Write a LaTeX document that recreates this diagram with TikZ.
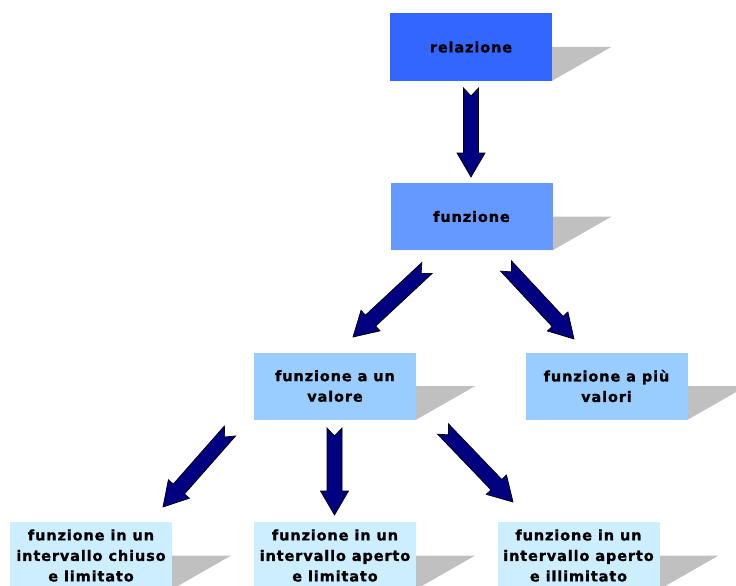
\documentclass[tikz,border=0pt]{standalone}
\usepackage{fontspec}
\setmainfont{DejaVu Sans}[LetterSpace=6, BoldFeatures={FakeBold=1.2}]
\usetikzlibrary{calc,backgrounds}

\definecolor{boxA}{HTML}{3366FF}
\definecolor{boxB}{HTML}{6699FF}
\definecolor{boxC}{HTML}{99CCFF}
\definecolor{boxD}{HTML}{CCEEFF}
\definecolor{shadowgray}{HTML}{C0C0C0}
\definecolor{navyfill}{HTML}{000080}

\tikzset{
  concept/.style={minimum width=162pt, minimum height=67pt, inner sep=0pt,
    align=center, font=\fontsize{14.5pt}{20.5pt}\selectfont\bfseries},
  boxshadow/.style={fill=shadowgray, draw=none},
  blockarrow/.style={fill=navyfill, draw=black, line width=0.7pt, line join=miter}
}

% skewed drop shadow behind a box, drawn on the background layer
\newcommand\boxshadow[1]{%
  \begin{scope}[on background layer]
    \fill[boxshadow] (#1.south west) -- (#1.south east)
      -- ([xshift=59pt]#1.east) -- ([xshift=59pt]#1.west) -- cycle;
  \end{scope}}

% thick block arrow with notched tail: #1 = tail, #2 = tip
\newcommand\blockarr[2]{%
  \draw[blockarrow]
    ($(#1)!7.5pt!90:(#2)$) -- ($(#1)!8pt!(#2)$) -- ($(#1)!7.5pt!-90:(#2)$)
    -- ($(#2)!24pt!(#1)!7.5pt!90:(#1)$) -- ($(#2)!24pt!(#1)!14pt!90:(#1)$)
    -- (#2)
    -- ($(#2)!24pt!(#1)!14pt!-90:(#1)$) -- ($(#2)!24pt!(#1)!7.5pt!-90:(#1)$)
    -- cycle;}

\begin{document}
\begin{tikzpicture}[x=1pt,y=-1pt]
  \useasboundingbox (0,0) rectangle (736,586);
  \clip (0,0) rectangle (736,586);

  % concept boxes
  \node[concept, fill=boxA] (rel) at (471,47)   {relazione};
  \node[concept, fill=boxB] (fun) at (471.5,216.5) {funzione};
  \node[concept, fill=boxC] (uno) at (335,386)  {funzione a un\\valore};
  \node[concept, fill=boxC] (piu) at (606.5,386) {funzione a più\\valori};
  \node[concept, fill=boxD] (chi) at (91,555.5)  {funzione in un\\intervallo chiuso\\e limitato};
  \node[concept, fill=boxD] (ape) at (335,555.5) {funzione in un\\intervallo aperto\\e limitato};
  \node[concept, fill=boxD] (ill) at (578.5,555.5) {funzione in un\\intervallo aperto\\e illimitato};

  \foreach \n in {rel,fun,uno,piu,chi,ape,ill} {\boxshadow{\n}}

  % arrow ends
  \coordinate (a1s) at (471,88);  \coordinate (a1e) at (471,177);
  \coordinate (a2s) at (427,268); \coordinate (a2e) at (353,337);
  \coordinate (a3s) at (506,266); \coordinate (a3e) at (574,339);
  \coordinate (a4s) at (230,431); \coordinate (a4e) at (163,507);
  \coordinate (a5s) at (334.5,428); \coordinate (a5e) at (334.5,515);
  \coordinate (a6s) at (443,429); \coordinate (a6e) at (513,502);

  \blockarr{a1s}{a1e}
  \blockarr{a2s}{a2e}
  \blockarr{a3s}{a3e}
  \blockarr{a4s}{a4e}
  \blockarr{a5s}{a5e}
  \blockarr{a6s}{a6e}
\end{tikzpicture}
\end{document}
